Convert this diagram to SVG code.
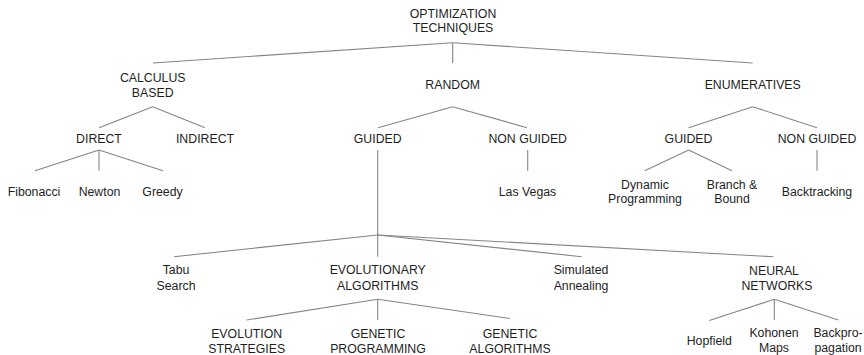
<svg xmlns="http://www.w3.org/2000/svg" width="864" height="355" viewBox="0 0 864 355">
<style>
text{font-family:"Liberation Sans",Arial,sans-serif;font-size:12.3px;fill:#1e1e1e;text-anchor:middle}
.c line{stroke:#858585;stroke-width:1.1}
</style>
<rect width="864" height="355" fill="#fff"/>
<g class="c" id="connectors">
<line x1="452.7" y1="42.7" x2="153" y2="63"/>
<line x1="452.7" y1="42.7" x2="452.7" y2="63"/>
<line x1="452.7" y1="42.7" x2="752.7" y2="63"/>
<line x1="152.7" y1="106.7" x2="99" y2="127.7"/>
<line x1="152.7" y1="106.7" x2="205" y2="127.7"/>
<line x1="452.7" y1="106.7" x2="378" y2="127.7"/>
<line x1="452.7" y1="106.7" x2="527" y2="127.7"/>
<line x1="752.7" y1="106.7" x2="688.7" y2="127.7"/>
<line x1="752.7" y1="106.7" x2="817" y2="127.7"/>
<line x1="99" y1="150" x2="35" y2="170.7"/>
<line x1="99" y1="150" x2="99" y2="170.7"/>
<line x1="99" y1="150" x2="163" y2="170.7"/>
<line x1="527.7" y1="150" x2="527.7" y2="170.7"/>
<line x1="688.7" y1="150" x2="644.7" y2="170.7"/>
<line x1="688.7" y1="150" x2="732" y2="170.7"/>
<line x1="817" y1="150" x2="817" y2="170.7"/>
<line x1="377.7" y1="150" x2="377.7" y2="256.7"/>
<line x1="377.7" y1="235" x2="174" y2="256.7"/>
<line x1="377.7" y1="235" x2="581.7" y2="256.7"/>
<line x1="377.7" y1="235" x2="773.3" y2="256.7"/>
<line x1="377.7" y1="299.3" x2="246.7" y2="320"/>
<line x1="377.7" y1="299.3" x2="377.7" y2="320"/>
<line x1="377.7" y1="299.3" x2="510" y2="318.5"/>
<line x1="774.3" y1="299.3" x2="709.3" y2="320.5"/>
<line x1="774.3" y1="299.3" x2="774.3" y2="320"/>
<line x1="774.3" y1="299.3" x2="838.3" y2="320"/>
</g>
<g id="root"><text x="453" y="18.3">OPTIMIZATION</text><text x="453" y="32.3">TECHNIQUES</text></g>
<g id="calculus"><text x="152.7" y="81.7">CALCULUS</text><text x="152.7" y="97.3">BASED</text></g>
<g id="random"><text x="452.7" y="89.3">RANDOM</text></g>
<g id="enumeratives"><text x="752.7" y="89.3">ENUMERATIVES</text></g>
<g id="direct"><text x="99" y="142.7">DIRECT</text></g>
<g id="indirect"><text x="205" y="142.7">INDIRECT</text></g>
<g id="guided-random"><text x="377.7" y="142.7">GUIDED</text></g>
<g id="nonguided-random"><text x="527.7" y="142.7">NON GUIDED</text></g>
<g id="guided-enum"><text x="688.5" y="142.7">GUIDED</text></g>
<g id="nonguided-enum"><text x="817" y="142.7">NON GUIDED</text></g>
<g id="fibonacci"><text x="34" y="196">Fibonacci</text></g>
<g id="newton"><text x="99.5" y="196">Newton</text></g>
<g id="greedy"><text x="162.5" y="196">Greedy</text></g>
<g id="lasvegas"><text x="527.5" y="196">Las Vegas</text></g>
<g id="dynamic"><text x="645" y="188.5">Dynamic</text><text x="645" y="202.7">Programming</text></g>
<g id="branch"><text x="732" y="188.5">Branch &amp;</text><text x="732" y="202.7">Bound</text></g>
<g id="backtracking"><text x="817" y="196">Backtracking</text></g>
<g id="tabu"><text x="176" y="274">Tabu</text><text x="176" y="290">Search</text></g>
<g id="evolutionary"><text x="377.7" y="274">EVOLUTIONARY</text><text x="377.7" y="290">ALGORITHMS</text></g>
<g id="simulated"><text x="581" y="274">Simulated</text><text x="581" y="290">Annealing</text></g>
<g id="neural"><text x="774" y="275">NEURAL</text><text x="777" y="290">NETWORKS</text></g>
<g id="evolution-strategies"><text x="246.7" y="338.3">EVOLUTION</text><text x="246.7" y="353.3">STRATEGIES</text></g>
<g id="genetic-programming"><text x="378" y="338.3">GENETIC</text><text x="378" y="353.3">PROGRAMMING</text></g>
<g id="genetic-algorithms"><text x="510" y="338.3">GENETIC</text><text x="510" y="353.3">ALGORITHMS</text></g>
<g id="hopfield"><text x="709.3" y="344.5">Hopfield</text></g>
<g id="kohonen"><text x="774" y="337.3">Kohonen</text><text x="774" y="352">Maps</text></g>
<g id="backprop"><text x="838" y="337.3">Backpro-</text><text x="838" y="352">pagation</text></g>
</svg>
